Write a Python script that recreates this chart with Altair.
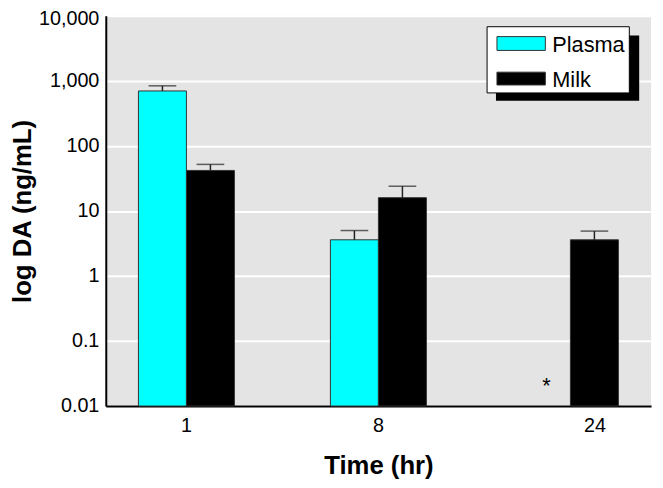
import altair as alt
import pandas as pd

times = ["1", "8", "24"]
series = ["Plasma", "Milk"]
plasma_vals = [700, 3.6, None]
plasma_upper = [840, 5.0, None]
milk_vals = [42, 16, 3.6]
milk_upper = [52, 24, 4.9]
asterisk_time = "24"
asterisk_value = 0.025
colors = ["#00ffff", "#000000"]
y_ticks = [0.01, 0.1, 1, 10, 100, 1000, 10000]

rows = []
for t, pv, pu, mv, mu in zip(times, plasma_vals, plasma_upper, milk_vals, milk_upper):
    if pv is not None:
        rows.append({"time": t, "series": "Plasma", "value": pv, "upper": pu, "base": 0.01})
    rows.append({"time": t, "series": "Milk", "value": mv, "upper": mu, "base": 0.01})
df = pd.DataFrame(rows)
ast_df = pd.DataFrame([{"time": asterisk_time, "series": "Plasma", "value": asterisk_value, "label": "*"}])

FONT = "Liberation Sans Narrow, Liberation Sans, Arial, sans-serif"

xscale = alt.Scale(domain=times, paddingInner=0.5, paddingOuter=0.17)
yscale = alt.Scale(type="log", domain=[0.01, 10000], nice=False)
offs = alt.Scale(domain=series, paddingInner=0, paddingOuter=0)

x_enc = alt.X("time:N", scale=xscale, sort=times,
              axis=alt.Axis(title="Time (hr)", labelAngle=0, ticks=False, labelPadding=10,
                            labelOffset=alt.ExprRef("datum.value == '24' ? 25 : 0"),
                            domainColor="black", domainWidth=2, grid=False,
                            titlePadding=17))
y_enc = alt.Y("value:Q", scale=yscale,
              axis=alt.Axis(title="log DA (ng/mL)", values=y_ticks, format=",~g", ticks=False,
                            labelPadding=7, domainColor="black", domainWidth=2,
                            labelOffset=alt.ExprRef("datum.value == 10000 ? 3 : 0"),
                            grid=True, gridColor="white", gridWidth=2, titlePadding=3))

bars = alt.Chart(df).mark_bar(stroke="#333333", strokeWidth=1).encode(
    x=x_enc,
    xOffset=alt.XOffset("series:N", scale=offs, sort=series),
    y=y_enc,
    y2="base:Q",
    color=alt.Color("series:N", scale=alt.Scale(domain=series, range=colors), legend=None),
)

err_line = alt.Chart(df).mark_rule(color="#222222", strokeWidth=1.5).encode(
    x=alt.X("time:N", scale=xscale, sort=times),
    xOffset=alt.XOffset("series:N", scale=offs, sort=series),
    y=alt.Y("value:Q", scale=yscale),
    y2="upper:Q",
)
err_cap = alt.Chart(df).mark_tick(color="#222222", thickness=1.5, size=28).encode(
    x=alt.X("time:N", scale=xscale, sort=times),
    xOffset=alt.XOffset("series:N", scale=offs, sort=series),
    y=alt.Y("upper:Q", scale=yscale),
)

ast = alt.Chart(ast_df).mark_text(font=FONT, fontSize=22, color="black", baseline="middle", dy=6).encode(
    x=alt.X("time:N", scale=xscale, sort=times),
    xOffset=alt.XOffset("series:N", scale=offs, sort=series),
    y=alt.Y("value:Q", scale=yscale),
    text="label:N",
)

# legend (drawn by hand, with a drop shadow)
one = pd.DataFrame({"k": [0]})
shadow = alt.Chart(one).mark_rect(fill="black").encode(
    x=alt.value(395), x2=alt.value(540), y=alt.value(20), y2=alt.value(86))
box = alt.Chart(one).mark_rect(fill="white", stroke="black", strokeWidth=1).encode(
    x=alt.value(386), x2=alt.value(530), y=alt.value(11), y2=alt.value(78))
sw1 = alt.Chart(one).mark_rect(fill=colors[0], stroke="#333333", strokeWidth=1).encode(
    x=alt.value(396), x2=alt.value(445), y=alt.value(21), y2=alt.value(35))
sw2 = alt.Chart(one).mark_rect(fill=colors[1], stroke="#333333", strokeWidth=1).encode(
    x=alt.value(396), x2=alt.value(445), y=alt.value(57), y2=alt.value(70))
t1 = alt.Chart(one).mark_text(text=series[0], font=FONT, fontSize=22, align="left",
                              baseline="alphabetic", color="black").encode(
    x=alt.value(452), y=alt.value(37))
t2 = alt.Chart(one).mark_text(text=series[1], font=FONT, fontSize=22, align="left",
                              baseline="alphabetic", color="black").encode(
    x=alt.value(452), y=alt.value(72))

chart = alt.layer(bars, err_line, err_cap, ast, shadow, box, sw1, sw2, t1, t2).properties(
    width=552, height=395,
    autosize=alt.AutoSizeParams(type="none"),
    padding={"left": 99, "top": 5, "right": 4, "bottom": 79},
).configure(background="white").configure_view(fill="#e4e4e4", stroke=None).configure_axis(
    labelFont=FONT, labelFontSize=20, labelColor="black",
    titleFont=FONT, titleFontSize=26, titleFontWeight="bold", titleColor="black",
)

chart.save("out.html", embed_options={"renderer": "svg", "actions": False})
